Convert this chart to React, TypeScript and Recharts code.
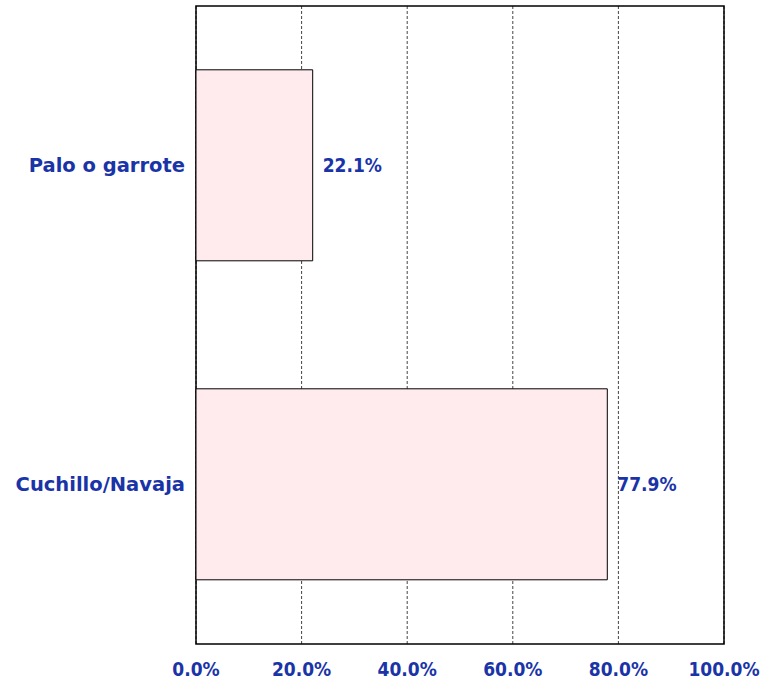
import { BarChart, Bar, XAxis, YAxis, CartesianGrid, LabelList, ReferenceArea } from "recharts";

const categories = ["Palo o garrote", "Cuchillo/Navaja"];
const shares = [22.1, 77.9];
const xTicks = [0, 20, 40, 60, 80, 100];

const data = categories.map((name, i) => ({ name, value: shares[i] }));

const BLUE = "#1a34a8";
const labelStyle = { fill: BLUE, fontFamily: "'DejaVu Sans', Verdana, sans-serif", fontWeight: "bold", fontSize: 19.5 };
const numStyle = { fill: BLUE, fontFamily: "'DejaVu Sans Condensed', 'DejaVu Sans', sans-serif", fontWeight: "bold", fontSize: 19 };

export default function App() {
  return (
    <div style={{ position: "absolute", left: 0, top: 0, background: "white" }}>
      <BarChart
        width={766}
        height={685}
        data={data}
        layout="vertical"
        margin={{ top: 6, right: 42, bottom: 0, left: 0 }}
        barCategoryGap="20%"
      >
        <CartesianGrid horizontal={false} vertical stroke="#444" strokeDasharray="3 2" />
        <XAxis
          type="number"
          domain={[0, 100]}
          ticks={xTicks}
          tickFormatter={(v: number) => `${v.toFixed(1)}%`}
          tickLine={false}
          axisLine={false}
          tickMargin={13}
          height={41}
          tick={numStyle}
        />
        <YAxis
          type="category"
          dataKey="name"
          width={196}
          tickLine={false}
          axisLine={false}
          tickMargin={5}
          tick={labelStyle}
        />
        <ReferenceArea x1={0} x2={100} fill="none" stroke="#000" strokeWidth={1.5} ifOverflow="visible" />
        <Bar dataKey="value" fill="#ffeaee" stroke="#000" strokeWidth={1} isAnimationActive={false}>
          <LabelList
            dataKey="value"
            position="right"
            offset={10}
            formatter={(v: number) => `${v.toFixed(1)}%`}
            style={numStyle}
          />
        </Bar>
      </BarChart>
    </div>
  );
}
